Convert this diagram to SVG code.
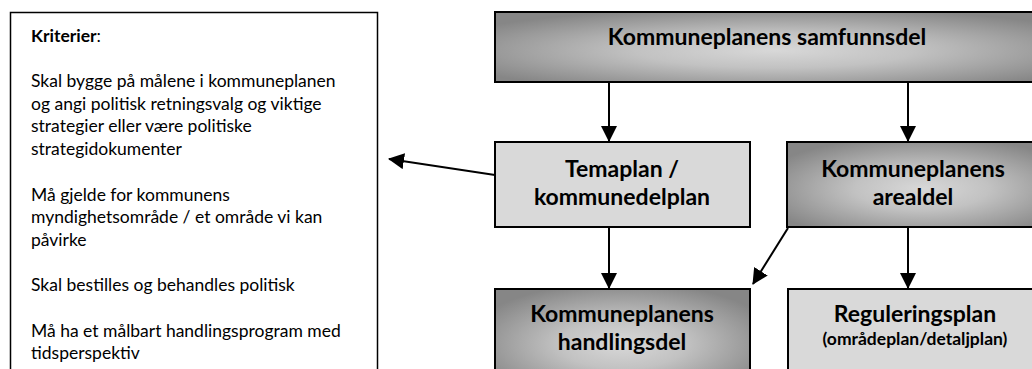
<svg xmlns="http://www.w3.org/2000/svg" width="1032" height="369" viewBox="0 0 1032 369">
<style>
.t{font-family:Lato,"Liberation Sans",sans-serif;font-size:17.5px;fill:#000}
.b{font-family:Lato,"Liberation Sans",sans-serif;font-weight:bold;font-size:23px;fill:#000;text-anchor:middle}
.s{font-family:Lato,"Liberation Sans",sans-serif;font-weight:bold;font-size:17.5px;fill:#000;text-anchor:middle}
.light{fill:#d9d9d9;stroke:#000;stroke-width:2}
.dark{fill:url(#g);stroke:#000;stroke-width:2}
.c{stroke:#000;stroke-width:2;fill:none;marker-end:url(#ah)}
</style>
<defs>
<radialGradient id="g" cx="0.5" cy="0.55" r="0.62">
<stop offset="0" stop-color="#d8d8d8"/>
<stop offset="0.4" stop-color="#c2c2c2"/>
<stop offset="1" stop-color="#868686"/>
</radialGradient>
<marker id="ah" markerWidth="8" markerHeight="8" refX="7.5" refY="4" orient="auto" markerUnits="strokeWidth">
<path d="M0,0 L8,4 L0,8 Z" fill="#000"/>
</marker>
</defs>
<rect width="1032" height="369" fill="#fff"/>
<g id="criteria">
<rect x="10.5" y="12.5" width="367" height="380" fill="#fff" stroke="#000" stroke-width="1.5"/>
<text class="t" x="31" y="41.5"><tspan font-weight="bold">Kriterier</tspan>:</text>
<text class="t" x="31" y="87">Skal bygge på målene i kommuneplanen</text>
<text class="t" x="31" y="109.7">og angi politisk retningsvalg og viktige</text>
<text class="t" x="31" y="132.4">strategier eller være politiske</text>
<text class="t" x="31" y="155.1">strategidokumenter</text>
<text class="t" x="31" y="200.5">Må gjelde for kommunens</text>
<text class="t" x="31" y="223.2">myndighetsområde / et område vi kan</text>
<text class="t" x="31" y="245.9">påvirke</text>
<text class="t" x="31" y="291.3">Skal bestilles og behandles politisk</text>
<text class="t" x="31" y="336.7">Må ha et målbart handlingsprogram med</text>
<text class="t" x="31" y="359.4">tidsperspektiv</text>
</g>
<g id="connectors">
<line class="c" x1="609" y1="82" x2="609" y2="141"/>
<line class="c" x1="908" y1="82" x2="908" y2="141"/>
<line class="c" x1="609" y1="227" x2="609" y2="288"/>
<line class="c" x1="908" y1="227" x2="908" y2="288"/>
<line class="c" x1="788" y1="228" x2="753" y2="284"/>
<line class="c" x1="495" y1="175" x2="389" y2="159"/>
</g>
<g id="samfunnsdel">
<rect class="dark" x="495" y="12" width="560" height="70"/>
<text class="b" x="767" y="45">Kommuneplanens samfunnsdel</text>
</g>
<g id="temaplan">
<rect class="light" x="495" y="142" width="255" height="85"/>
<text class="b" x="622" y="177">Temaplan /</text>
<text class="b" x="622" y="205">kommunedelplan</text>
</g>
<g id="arealdel">
<rect class="dark" x="787" y="142" width="270" height="85"/>
<text class="b" x="913" y="177">Kommuneplanens</text>
<text class="b" x="913" y="205">arealdel</text>
</g>
<g id="handlingsdel">
<rect class="dark" x="495" y="289" width="255" height="100"/>
<text class="b" x="622" y="322">Kommuneplanens</text>
<text class="b" x="622" y="350">handlingsdel</text>
</g>
<g id="regulering">
<rect class="light" x="788" y="289" width="270" height="100"/>
<text class="b" x="915" y="322">Reguleringsplan</text>
<text class="s" x="915" y="345">(områdeplan/detaljplan)</text>
</g>
</svg>
